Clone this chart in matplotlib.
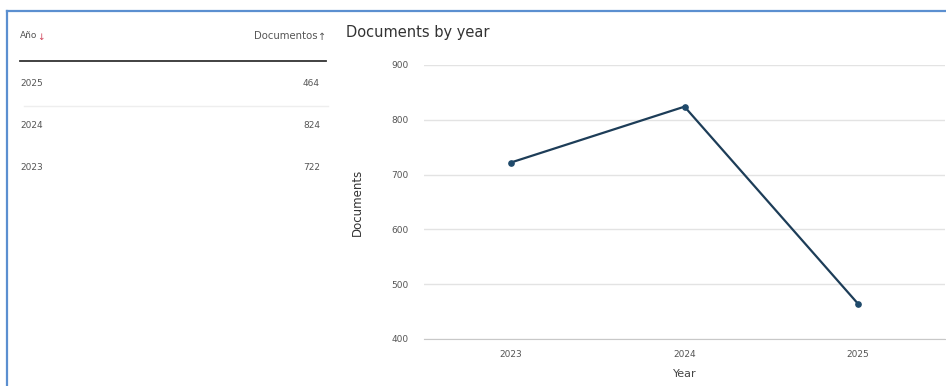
import matplotlib.pyplot as plt
from matplotlib.lines import Line2D

# datos
anios = ['2023', '2024', '2025']
documentos = [722, 824, 464]
filas_tabla = ['2025', '2024', '2023']
valores_tabla = [464, 824, 722]
ticks_y = [400, 500, 600, 700, 800, 900]

plt.rcParams['font.family'] = ['DejaVu Sans']

fig = plt.figure(figsize=(9.46, 3.86), dpi=100)
W, H = 946, 386

def fx(px):
    return px / W

def fy(py):
    return 1 - py / H

# marco azul (arriba e izquierda)
fig.add_artist(Line2D([fx(7), 1], [fy(11), fy(11)], color='#5b8fd0', lw=1.6))
fig.add_artist(Line2D([fx(7), fx(7)], [fy(11), 0], color='#5b8fd0', lw=1.6))

# tabla de la izquierda
gris = '#555555'
fig.text(fx(20), fy(36), 'Año', fontsize=6.5, color=gris, va='center', ha='left')
fig.text(fx(37), fy(37), '↓', fontsize=6.5, color='#d0445a', va='center', ha='left')
fig.text(fx(318), fy(36), 'Documentos', fontsize=7.3, color=gris, va='center', ha='right')
fig.text(fx(318), fy(37), '↑', fontsize=7, color=gris, va='center', ha='left')
fig.add_artist(Line2D([fx(20), fx(326)], [fy(61), fy(61)], color='#333333', lw=1.3))

y_fila = 84
for i, (a, v) in enumerate(zip(filas_tabla, valores_tabla)):
    fig.text(fx(20), fy(y_fila), a, fontsize=6.5, color=gris, va='center', ha='left')
    fig.text(fx(320), fy(y_fila), str(v), fontsize=6.5, color=gris, va='center', ha='right')
    if i == 0:
        fig.add_artist(Line2D([fx(24), fx(328)], [fy(106), fy(106)], color='#eeeeee', lw=1))
    y_fila += 42

# grafico de lineas
ax = fig.add_axes([fx(424), fy(339), fx(945) - fx(424), fy(65) - fy(339)])
x = list(range(len(anios)))
ax.plot(x, documentos, color='#1d3d58', lw=1.6, marker='o', markersize=3.8,
        markerfacecolor='#1f4a6b', markeredgecolor='#1f4a6b', zorder=3)
ax.set_xlim(-0.5, 2.5)
ax.set_ylim(400, 900)
ax.set_yticks(ticks_y)
ax.set_xticks(x)
ax.set_xticklabels(anios)
ax.grid(axis='y', color='#e3e3e3', lw=1)
ax.set_axisbelow(True)
for s in ['top', 'right', 'left']:
    ax.spines[s].set_visible(False)
ax.spines['bottom'].set_color('#c8c8c8')
ax.tick_params(axis='both', length=0, labelsize=6.5, labelcolor=gris)
ax.tick_params(axis='y', pad=11)
ax.tick_params(axis='x', pad=8)
ax.set_xlabel('Year', fontsize=8, color='#444444', labelpad=7)
ax.set_ylabel('Documents', fontsize=8.5, color='#333333', labelpad=20)

fig.text(fx(346), fy(33), 'Documents by year', fontsize=10.5, color='#333333',
         va='center', ha='left')

fig.savefig('out.png', dpi=100)
